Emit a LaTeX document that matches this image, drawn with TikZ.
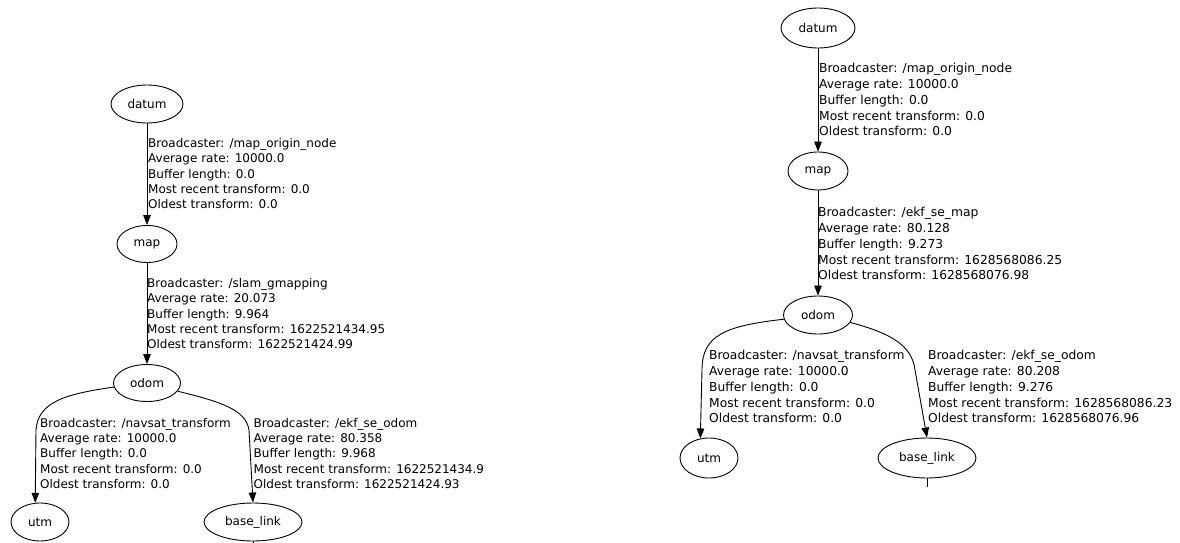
\documentclass[tikz,border=0pt]{standalone}
\usepackage{fontspec}
\setmainfont{DejaVu Sans}
\usetikzlibrary{shapes.geometric,arrows.meta}
\tikzset{
  tf/.style={draw, ellipse, line width=0.9pt, inner sep=0pt, font=\fontsize{12}{14}\selectfont},
  lab/.style={anchor=north west, inner sep=0pt, align=left, font=\fontsize{12}{15.3}\selectfont},
  labR/.style={lab, font=\fontsize{12.3}{15.8}\selectfont},
  conn/.style={line width=0.9pt, -{Triangle[length=10pt,width=7.5pt]}},
  stub/.style={line width=0.9pt},
}
\begin{document}
\begin{tikzpicture}[x=1pt,y=-1pt]
\path[use as bounding box] (0,0) rectangle (1180,543);
% left tree
\node[tf, minimum width=72pt, minimum height=38pt] (d1) at (147,104) {datum};
\node[tf, minimum width=60pt, minimum height=37pt] (m1) at (147,244) {map};
\node[tf, minimum width=67pt, minimum height=37pt] (o1) at (147,383) {odom};
\node[tf, minimum width=58pt, minimum height=38pt] (u1) at (40,522) {utm};
\node[tf, minimum width=98pt, minimum height=38pt] (b1) at (253,522) {base\_link};
\coordinate (t1) at (253,543);
\draw[conn] (d1) -- (m1);
\draw[conn] (m1) -- (o1);
\draw[conn] (o1.187) .. controls (65,394) and (38,402) .. (36,430) -- (u1.104);
\draw[conn] (o1.-15) .. controls (222,402) and (246,410) .. (249,430) -- (b1.north);
\draw[stub] (b1.south) -- (t1);
\node[lab] (l1) at (148,138.3) {Broadcaster: /map\_origin\_node\\Average rate: 10000.0\\Buffer length: 0.0\\Most recent transform: 0.0\\Oldest transform: 0.0};
\node[lab] (l2) at (147,278.3) {Broadcaster: /slam\_gmapping\\Average rate: 20.073\\Buffer length: 9.964\\Most recent transform: 1622521434.95\\Oldest transform: 1622521424.99};
\node[lab] (l3) at (40,418) {Broadcaster: /navsat\_transform\\Average rate: 10000.0\\Buffer length: 0.0\\Most recent transform: 0.0\\Oldest transform: 0.0};
\node[lab] (l4) at (253.5,418) {Broadcaster: /ekf\_se\_odom\\Average rate: 80.358\\Buffer length: 9.968\\Most recent transform: 1622521434.9\\Oldest transform: 1622521424.93};
% right tree
\node[tf, minimum width=74pt, minimum height=40pt] (d2) at (818,28) {datum};
\node[tf, minimum width=60pt, minimum height=38pt] (m2) at (818,171) {map};
\node[tf, minimum width=69pt, minimum height=38pt] (o2) at (818,315) {odom};
\node[tf, minimum width=58pt, minimum height=40pt] (u2) at (709,458) {utm};
\node[tf, minimum width=98pt, minimum height=40pt] (b2) at (927,458) {base\_link};
\coordinate (t2) at (927,487);
\draw[conn] (d2) -- (m2);
\draw[conn] (m2) -- (o2);
\draw[conn] (o2.187) .. controls (725,326) and (702,335) .. (702,370) -- (u2.114);
\draw[conn] (o2.-13) .. controls (890,333) and (912,345) .. (915,370) -- (b2.north);
\draw[stub] (b2.south) -- (t2);
\node[labR] (r1) at (819,63.2) {Broadcaster: /map\_origin\_node\\Average rate: 10000.0\\Buffer length: 0.0\\Most recent transform: 0.0\\Oldest transform: 0.0};
\node[labR] (r2) at (818,207.2) {Broadcaster: /ekf\_se\_map\\Average rate: 80.128\\Buffer length: 9.273\\Most recent transform: 1628568086.25\\Oldest transform: 1628568076.98};
\node[labR] (r3) at (709,350.2) {Broadcaster: /navsat\_transform\\Average rate: 10000.0\\Buffer length: 0.0\\Most recent transform: 0.0\\Oldest transform: 0.0};
\node[labR] (r4) at (928,350.2) {Broadcaster: /ekf\_se\_odom\\Average rate: 80.208\\Buffer length: 9.276\\Most recent transform: 1628568086.23\\Oldest transform: 1628568076.96};
\end{tikzpicture}
\end{document}
